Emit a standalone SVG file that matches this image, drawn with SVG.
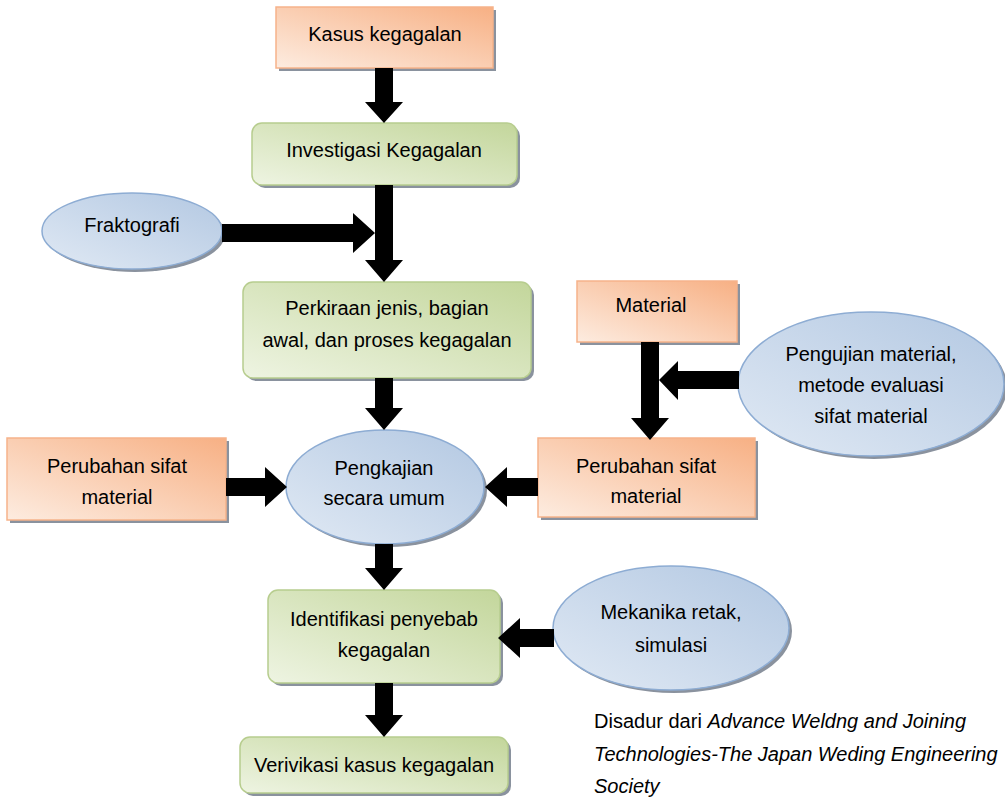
<svg xmlns="http://www.w3.org/2000/svg" width="1005" height="799" viewBox="0 0 1005 799">
<defs>
<linearGradient id="gO" x1="1" y1="0" x2="0" y2="1"><stop offset="0" stop-color="#F7B084"/><stop offset="1" stop-color="#FDECE0"/></linearGradient>
<linearGradient id="gG" x1="1" y1="0" x2="0" y2="1"><stop offset="0" stop-color="#C3D69B"/><stop offset="1" stop-color="#EEF4E2"/></linearGradient>
<linearGradient id="gB" x1="1" y1="0" x2="0" y2="1"><stop offset="0" stop-color="#B3C8E2"/><stop offset="1" stop-color="#E0E9F4"/></linearGradient>
<style>
.o{fill:url(#gO);stroke:#F6B38A;stroke-width:1.5}
.g{fill:url(#gG);stroke:#B7CD8E;stroke-width:1.5}
.b{fill:url(#gB);stroke:#8DACD3;stroke-width:1.5}
.sh{fill:#8A929E}
.t{font-family:"Liberation Sans",Arial,sans-serif;font-size:20px;fill:#000;text-anchor:middle}
.c{font-family:"Liberation Sans",Arial,sans-serif;font-size:20px;fill:#000}
.arr{fill:#000}
</style>
</defs>
<g id="kasus">
<rect class="sh" x="279" y="10" width="217" height="61"/>
<rect class="o" x="276" y="7" width="217" height="61"/>
<text class="t" x="385" y="41">Kasus kegagalan</text>
</g>
<g id="investigasi">
<rect class="sh" x="255" y="126" width="265" height="62" rx="10"/>
<rect class="g" x="252" y="123" width="265" height="62" rx="10"/>
<text class="t" x="384" y="157">Investigasi Kegagalan</text>
</g>
<g id="fraktografi">
<ellipse class="sh" cx="135" cy="234" rx="90" ry="38"/>
<ellipse class="b" cx="132" cy="231" rx="90" ry="38"/>
<text class="t" x="132" y="232">Fraktografi</text>
</g>
<g id="perkiraan">
<rect class="sh" x="246" y="285" width="288" height="96" rx="10"/>
<rect class="g" x="243" y="282" width="288" height="96" rx="10"/>
<text class="t" x="387" y="315">Perkiraan jenis, bagian</text>
<text class="t" x="387" y="347">awal, dan proses kegagalan</text>
</g>
<g id="material">
<rect class="sh" x="580" y="284" width="160" height="61"/>
<rect class="o" x="577" y="281" width="160" height="61"/>
<text class="t" x="651" y="312">Material</text>
</g>
<g id="pengujian">
<ellipse class="sh" cx="874" cy="387" rx="133" ry="72"/>
<ellipse class="b" cx="871" cy="384" rx="133" ry="72"/>
<text class="t" x="871" y="361">Pengujian material,</text>
<text class="t" x="871" y="392">metode evaluasi</text>
<text class="t" x="871" y="423">sifat material</text>
</g>
<g id="perubahan-kiri">
<rect class="sh" x="10" y="441" width="219" height="82"/>
<rect class="o" x="7" y="438" width="219" height="82"/>
<text class="t" x="117" y="473">Perubahan sifat</text>
<text class="t" x="117" y="504">material</text>
</g>
<g id="pengkajian">
<ellipse class="sh" cx="388" cy="490" rx="99" ry="57"/>
<ellipse class="b" cx="385" cy="487" rx="99" ry="57"/>
<text class="t" x="384" y="475">Pengkajian</text>
<text class="t" x="384" y="505">secara umum</text>
</g>
<g id="perubahan-kanan">
<rect class="sh" x="541" y="441" width="217" height="79"/>
<rect class="o" x="538" y="438" width="217" height="79"/>
<text class="t" x="646" y="473">Perubahan sifat</text>
<text class="t" x="646" y="503">material</text>
</g>
<g id="identifikasi">
<rect class="sh" x="271" y="593" width="232" height="93" rx="10"/>
<rect class="g" x="268" y="590" width="232" height="93" rx="10"/>
<text class="t" x="384" y="626">Identifikasi penyebab</text>
<text class="t" x="384" y="657">kegagalan</text>
</g>
<g id="mekanika">
<ellipse class="sh" cx="674" cy="631" rx="118" ry="62"/>
<ellipse class="b" cx="671" cy="628" rx="118" ry="62"/>
<text class="t" x="671" y="619">Mekanika retak,</text>
<text class="t" x="671" y="652">simulasi</text>
</g>
<g id="verivikasi">
<rect class="sh" x="243" y="740" width="268" height="56" rx="10"/>
<rect class="g" x="240" y="737" width="268" height="56" rx="10"/>
<text class="t" x="374" y="772">Verivikasi kasus kegagalan</text>
</g>
<g id="connectors">
<polygon class="arr" points="375,68 393,68 393,102 403,102 384,123 365,102 375,102"/>
<polygon class="arr" points="375,185 393,185 393,260 403,260 384,282 365,260 375,260"/>
<polygon class="arr" points="222,224 353,224 353,213 375,233 353,253 353,242 222,242"/>
<polygon class="arr" points="375,378 393,378 393,408 403,408 384,430 365,408 375,408"/>
<polygon class="arr" points="226,478 265,478 265,467 287,487 265,507 265,496 226,496"/>
<polygon class="arr" points="538,478 507,478 507,467 485,487 507,507 507,496 538,496"/>
<polygon class="arr" points="641,342 659,342 659,418 669,418 650,440 631,418 641,418"/>
<polygon class="arr" points="739,371 678,371 678,361 659,380 678,400 678,389 739,389"/>
<polygon class="arr" points="375,544 393,544 393,568 403,568 384,590 365,568 375,568"/>
<polygon class="arr" points="554,629 520,629 520,618 498,638 520,658 520,647 554,647"/>
<polygon class="arr" points="375,683 393,683 393,715 403,715 384,737 365,715 375,715"/>
</g>
<g id="sumber">
<text class="c" x="594" y="728">Disadur dari <tspan font-style="italic">Advance Weldng and Joining</tspan></text>
<text class="c" x="594" y="761" font-style="italic">Technologies-The Japan Weding Engineering</text>
<text class="c" x="594" y="793" font-style="italic">Society</text>
</g>
</svg>
